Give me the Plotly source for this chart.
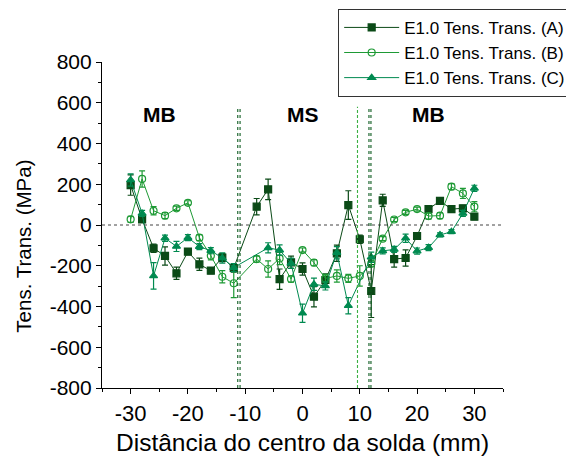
import plotly.graph_objects as go

x_a = [-30, -28, -26, -24, -22, -20, -18, -16, -14, -12, -8, -6, -4, -2, 0, 2, 4, 6, 8, 10, 12, 14, 16, 18, 20, 22, 24, 26, 28, 30]
y_a = [196, 28, -114, -152, -237, -131, -193, -224, -160, -211, 90, 175, -266, -183, -216, -352, -270, -139, 98, -70, -324, 121, -167, -162, -54, 78, 118, 78, 82, 41]
e_a = [50, 15, 20, 45, 30, 15, 30, 15, 20, 20, 40, 50, 50, 30, 30, 50, 30, 40, 70, 20, 130, 30, 40, 40, 15, 15, 15, 15, 15, 15]

x_b = [-30, -28, -26, -24, -22, -20, -18, -16, -14, -12, -8, -6, -4, -2, 0, 2, 4, 6, 8, 10, 12, 14, 16, 18, 20, 22, 24, 26, 28, 30]
y_b = [28, 226, 70, 46, 82, 109, -62, -151, -254, -286, -167, -216, -164, -265, -123, -185, -262, -250, -262, -250, -190, -67, 27, 62, 78, 44, 46, 188, 155, 90]
e_b = [15, 40, 20, 15, 10, 10, 15, 20, 30, 70, 15, 40, 30, 15, 10, 15, 20, 30, 20, 50, 15, 10, 10, 10, 10, 15, 15, 15, 25, 25]

x_c = [-30, -28, -26, -24, -22, -20, -18, -16, -14, -12, -6, -4, -2, 0, 2, 4, 6, 8, 12, 14, 16, 18, 20, 22, 24, 26, 28, 30]
y_c = [221, 57, -250, -65, -105, -62, -106, -126, -162, -209, -112, -123, -188, -433, -291, -299, -136, -396, -158, -127, -120, -65, -128, -111, -49, -33, 57, 180]
e_c = [30, 15, 65, 15, 25, 15, 15, 15, 25, 20, 25, 25, 25, 45, 30, 20, 30, 40, 25, 15, 15, 20, 15, 15, 10, 10, 15, 15]

names = ["E1.0 Tens. Trans. (A)", "E1.0 Tens. Trans. (B)", "E1.0 Tens. Trans. (C)"]
colors = ["#0b4a17", "#1e9a35", "#008a50"]

x_ticks = [-30, -20, -10, 0, 10, 20, 30]
x_ticktext = ["-30", "-20", "-10", "0", "10", "20", "30"]
y_ticks = [-800, -600, -400, -200, 0, 200, 400, 600, 800]
y_ticktext = ["-800", "-600", "-400", "-200", "0", "200", "400", "600", "800"]

x_title = "Distância do centro da solda (mm)"
y_title = "Tens. Trans. (MPa)"

zone_x = [-25, 0, 22]
zone_labels = ["MB", "MS", "MB"]
vlines = [(-11.3, "#0b5a1e", "dot"), (-10.9, "#0b5a1e", "dot"), (9.6, "#3cb043", "3px,2px"), (11.6, "#0b5a1e", "dot"), (11.95, "#0b5a1e", "dot")]

fig = go.Figure()
series = [(x_a, y_a, e_a, "square", colors[0]),
          (x_b, y_b, e_b, "circle-open", colors[1]),
          (x_c, y_c, e_c, "triangle-up", colors[2])]
for (xs, ys, es, sym, col), nm in zip(series, names):
    fig.add_trace(go.Scatter(
        x=xs, y=ys, name=nm, mode="lines+markers",
        line=dict(color=col, width=1),
        marker=dict(symbol=sym, size=7, color=col, line=dict(color=col, width=1.2)),
        error_y=dict(type="data", array=es, visible=True, color=col, thickness=1.2, width=3),
    ))

for xv, col, dash in vlines:
    fig.add_shape(type="line", x0=xv, x1=xv, y0=-800, y1=580, xref="x", yref="y",
                  line=dict(color=col, width=1.1, dash=dash))
fig.add_shape(type="line", x0=-35, x1=36, y0=0, y1=0, xref="x", yref="y",
              line=dict(color="#444444", width=1, dash="dot"))

for xv, t in zip(zone_x, zone_labels):
    fig.add_annotation(x=xv, y=540, text="<b>%s</b>" % t, showarrow=False,
                       font=dict(family="Liberation Sans, Arial", size=21, color="black"))

fig.add_annotation(xref="paper", yref="paper", x=-0.195, y=0.436, text=y_title, textangle=-90,
                   showarrow=False, xanchor="center", yanchor="middle",
                   font=dict(size=20.5, color="black"))
fig.add_annotation(xref="paper", yref="paper", x=0.5, y=-0.166, text=x_title,
                   showarrow=False, xanchor="center", yanchor="middle",
                   font=dict(size=24.5, color="black"))

fig.update_layout(
    width=566, height=451,
    margin=dict(l=94, r=71, t=54, b=71, autoexpand=False),
    paper_bgcolor="white", plot_bgcolor="white",
    font=dict(family="Liberation Sans, Arial", color="black"),
    showlegend=True,
    legend=dict(x=1.17, y=1.163, xanchor="right", yanchor="top",
                bordercolor="#333333", borderwidth=1, bgcolor="white",
                font=dict(size=17), tracegroupgap=0, itemwidth=55),
)
fig.update_xaxes(range=[-35, 35], tickmode="array", tickvals=x_ticks, ticktext=x_ticktext,
                 ticks="outside", ticklen=5, tickwidth=1, tickcolor="black",
                 minor=dict(tickvals=[-35, -25, -15, -5, 5, 15, 25, 35], ticks="outside", ticklen=3, tickcolor="black"),
                 showline=True, linecolor="black", linewidth=1.2, showgrid=False, zeroline=False,
                 tickfont=dict(size=22))
fig.update_yaxes(range=[-800, 800], tickmode="array", tickvals=y_ticks, ticktext=y_ticktext,
                 ticks="outside", ticklen=5, tickwidth=1, tickcolor="black",
                 minor=dict(tickvals=list(range(-700, 800, 200)), ticks="outside", ticklen=3, tickcolor="black"),
                 showline=True, linecolor="black", linewidth=1.2, showgrid=False, zeroline=False,
                 tickfont=dict(size=21))

fig.write_html("out.html")
